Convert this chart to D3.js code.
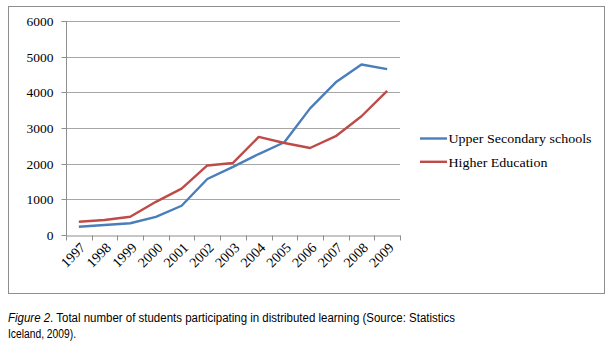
<!DOCTYPE html>
<html><head><meta charset="utf-8">
<script src="https://cdn.jsdelivr.net/npm/d3@7"></script>
<style>body{margin:0;background:#fff}svg{display:block}</style>
</head><body>
<svg id="c" width="616" height="355"></svg>
<script>
const years = ["1997","1998","1999","2000","2001","2002","2003","2004","2005","2006","2007","2008","2009"];
const upperSecondary = [230, 280, 330, 510, 820, 1570, 1910, 2270, 2600, 3550, 4280, 4780, 4650];
const higherEducation = [370, 420, 510, 930, 1300, 1950, 2020, 2750, 2580, 2440, 2770, 3330, 4040];
const seriesNames = ["Upper Secondary schools", "Higher Education"];
const yTicks = [0, 1000, 2000, 3000, 4000, 5000, 6000];
const captionItalic = "Figure 2";
const captionLine1 = ". Total number of students participating in  distributed learning (Source: Statistics";
const captionLine2 = "Iceland, 2009).";

const svg = d3.select("#c");
const colors = ["#4a7ebb", "#be4b48"];
const L = 66, R = 400, T = 21, B = 235;

svg.append("rect").attr("x", 8.5).attr("y", 6.5).attr("width", 596).attr("height", 287)
  .attr("fill", "none").attr("stroke", "#8e8e8e").attr("stroke-width", 1);

const x = d3.scaleBand().domain(years).range([L, R]);
const y = d3.scaleLinear().domain([0, 6000]).range([B, T]);

// gridlines
svg.append("g").selectAll("line").data(yTicks.filter(d => d > 0)).join("line")
  .attr("x1", L).attr("x2", R).attr("y1", d => Math.round(y(d)) + 0.5).attr("y2", d => Math.round(y(d)) + 0.5)
  .attr("stroke", "#a6a6a6").attr("stroke-width", 1);

// y axis
const ya = svg.append("g").attr("transform", `translate(${L + 0.5},0)`)
  .call(d3.axisLeft(y).tickValues(yTicks).tickSize(5).tickPadding(8).tickFormat(d3.format("d")));
ya.select(".domain").attr("stroke", "#8e8e8e").attr("d", `M-5,${Math.round(T)+0.5}H0V${B+0.5}`);
ya.selectAll(".tick line").attr("stroke", "#8e8e8e");
ya.selectAll(".tick").attr("transform", d => `translate(0,${Math.round(y(d)) + 0.5})`);
ya.selectAll("text").attr("font-family", "Liberation Serif, serif").attr("font-size", "13.5px").attr("fill", "#000").attr("dy", "0.35em");

// x axis
const xa = svg.append("g").attr("transform", `translate(0,${B + 0.5})`)
  .call(d3.axisBottom(x).tickSize(0).tickFormat(""));
xa.select(".domain").attr("stroke", "#8e8e8e");
xa.selectAll(".tick").remove();
const edges = years.map((d, i) => x(d)).concat([R]);
xa.selectAll("line.tk").data(edges).join("line").attr("class", "tk")
  .attr("x1", d => Math.round(d) + 0.5).attr("x2", d => Math.round(d) + 0.5).attr("y1", 0).attr("y2", 5)
  .attr("stroke", "#8e8e8e");
svg.append("g").selectAll("text").data(years).join("text")
  .attr("transform", d => `translate(${x(d) + x.bandwidth() / 2 + 4},${B + 10}) rotate(-45)`)
  .attr("text-anchor", "end").attr("dy", "0.35em")
  .attr("font-family", "Liberation Serif, serif").attr("font-size", "14px").attr("fill", "#000")
  .text(d => d);

// lines
const line = d3.line().x((d, i) => x(years[i]) + x.bandwidth() / 2).y(d => y(d));
[upperSecondary, higherEducation].forEach((s, k) => {
  svg.append("path").datum(s).attr("d", line).attr("fill", "none")
    .attr("stroke", colors[k]).attr("stroke-width", 2.4).attr("stroke-linejoin", "round");
});

// legend
seriesNames.forEach((n, k) => {
  const ly = 138.5 + k * 23.3;
  svg.append("line").attr("x1", 420).attr("x2", 447).attr("y1", ly).attr("y2", ly)
    .attr("stroke", colors[k]).attr("stroke-width", 2.4);
  svg.append("text").attr("x", 448.5).attr("y", ly).attr("dy", "0.35em")
    .attr("font-family", "Liberation Serif, serif").attr("font-size", "13.5px").attr("fill", "#000")
    .attr("textLength", k === 0 ? 143 : 99).attr("lengthAdjust", "spacingAndGlyphs")
    .text(n);
});

// caption
const cap = svg.append("text").attr("x", 8).attr("y", 322)
  .attr("font-family", "Liberation Sans, Arial, sans-serif").attr("font-size", "12.5px").attr("fill", "#000")
  .attr("textLength", 447).attr("lengthAdjust", "spacingAndGlyphs");
cap.append("tspan").attr("font-style", "italic").text(captionItalic);
cap.append("tspan").text(captionLine1);
svg.append("text").attr("x", 8).attr("y", 338)
  .attr("font-family", "Liberation Sans, Arial, sans-serif").attr("font-size", "12.5px").attr("fill", "#000")
  .attr("textLength", 68).attr("lengthAdjust", "spacingAndGlyphs")
  .text(captionLine2);
</script>
</body></html>
